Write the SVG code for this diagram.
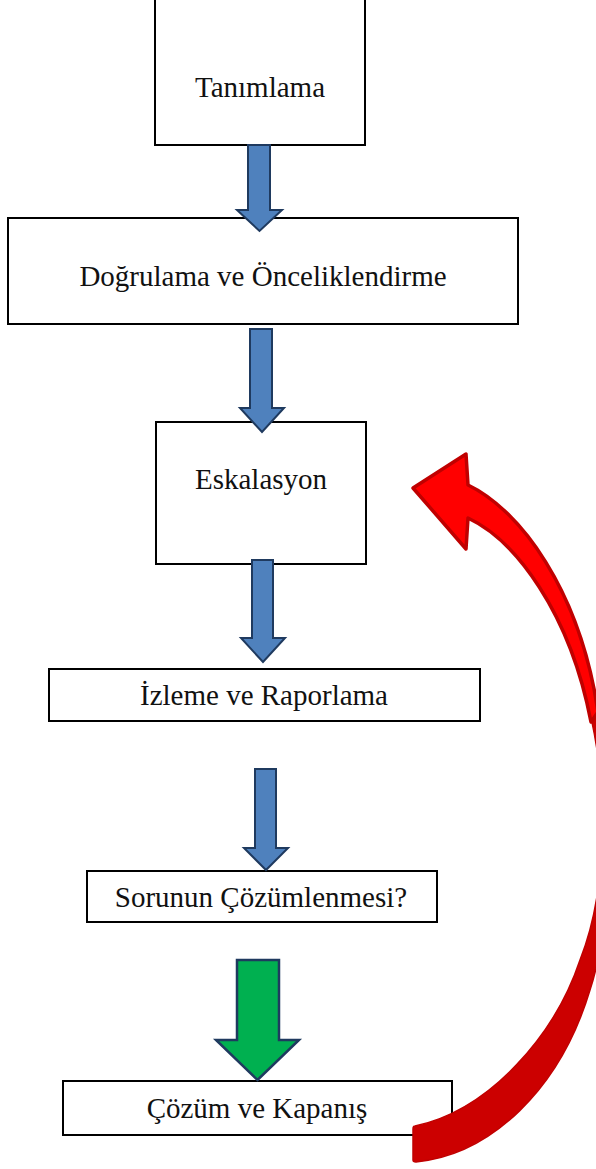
<svg xmlns="http://www.w3.org/2000/svg" width="596" height="1169" viewBox="0 0 596 1169">
<style>
.box{fill:#fff;stroke:#000;stroke-width:2}
.lbl{font-family:"Liberation Serif","Times New Roman",serif;font-size:29px;fill:#111;text-anchor:middle}
.blue{fill:#4F81BD;stroke:#1F3A5F;stroke-width:2;stroke-linejoin:miter}
.green{fill:#00B050;stroke:#1F3A5F;stroke-width:2.5;stroke-linejoin:miter}
</style>
<rect width="596" height="1169" fill="#fff"/>
<g id="n1"><rect class="box" x="155" y="-5" width="210" height="150"/><text class="lbl" x="260" y="97">Tanımlama</text></g>
<g id="n2"><rect class="box" x="8" y="218" width="510" height="106"/><text class="lbl" x="263" y="286">Doğrulama ve Önceliklendirme</text></g>
<g id="n3"><rect class="box" x="156" y="422" width="210" height="142"/><text class="lbl" x="261" y="489">Eskalasyon</text></g>
<g id="n4"><rect class="box" x="49" y="669" width="431" height="52"/><text class="lbl" x="264" y="705">İzleme ve Raporlama</text></g>
<g id="n5"><rect class="box" x="87" y="871" width="350" height="51"/><text class="lbl" x="261" y="907">Sorunun Çözümlenmesi?</text></g>
<g id="n6"><rect class="box" x="63" y="1081" width="389" height="54"/><text class="lbl" x="257" y="1118">Çözüm ve Kapanış</text></g>
<g id="connectors">
<path class="blue" d="M248,145 H270 V210 H282 L259.5,231 L237,210 H248 Z"/>
<path class="blue" d="M250,329 H272 V408 H284 L262,432 L240,408 H250 Z"/>
<path class="blue" d="M252,560 H273 V638 H285 L263,662 L241,638 H252 Z"/>
<path class="blue" d="M255,769 H276 V848 H288 L266,870 L244,848 H255 Z"/>
<path class="green" d="M237,960 H279 V1040 H299 L257.5,1080 L216,1040 H237 Z"/>
<g id="loop">
<path d="M415,1126 Q413,1126 413,1129 L413,1160 Q413,1162 416,1162 C490,1155 560,1090 590,990 C610,930 615,800 594,690 L584,690 C610,780 608,890 580,960 C555,1035 490,1110 415,1126 Z" fill="#CC0000" stroke="#C00000" stroke-width="1.5" stroke-linejoin="round"/>
<path d="M413,488 L466,454 L468,485 C520,510 580,590 598,712 L591,722 C570,612 515,540 468,518 L466,549 Z" fill="#FF0000" stroke="#C00000" stroke-width="3.5" stroke-linejoin="round"/>
</g>
</g>
</svg>
